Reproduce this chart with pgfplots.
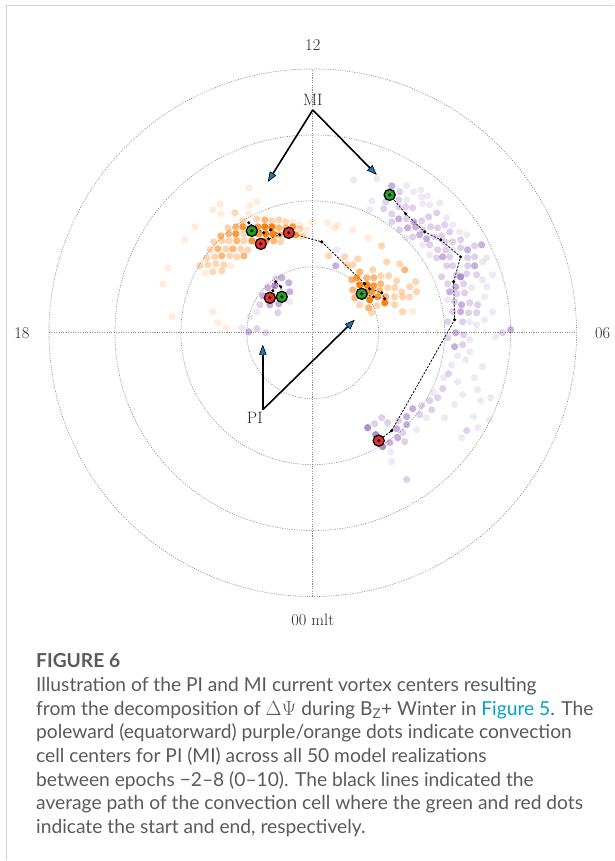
\documentclass[border=0pt]{standalone}
\usepackage{fontspec}
\usepackage{pgfplots}
\pgfplotsset{compat=1.18}
\usetikzlibrary{arrows.meta}
\newfontfamily\capfont{Lato}

\definecolor{mio}{HTML}{FF7F0E}
\definecolor{pip}{HTML}{9467BD}
\definecolor{startg}{HTML}{22A022}
\definecolor{endr}{HTML}{E62E2E}
\definecolor{arrowblue}{HTML}{1F77B4}
\definecolor{gridgray}{HTML}{8A8A8A}
\definecolor{captext}{HTML}{5A5A5A}
\definecolor{caplink}{HTML}{00A2C6}
\definecolor{framegray}{HTML}{D2D2D2}

\pgfplotsset{
  cloud/.style 2 args={only marks, mark=*, mark size=3.6bp,
    mark options={draw opacity=0, fill=#1, fill opacity=#2}},
  track/.style={black, line width=0.8bp, dash pattern=on 2.2bp off 1.4bp, no marks},
  trackdots/.style={only marks, mark=*, mark size=1.7bp, mark options={fill=black, draw opacity=0}},
  endpt/.style={only marks, mark=*, mark size=5.6bp, mark options={fill=#1, draw=black, line width=1.2bp}},
}
\tikzset{
  ring/.style={gridgray, line width=0.6bp, dash pattern=on 1.1bp off 1.3bp},
  lbl/.style={font=\fontsize{16.5}{18}\selectfont, text=black!85},
  ann/.style={line width=1.6bp, -{Triangle[length=10bp,width=7.5bp,fill=arrowblue,line width=0.6bp]}},
  capline/.style={anchor=base west, inner sep=0pt, text=captext, font=\capfont\fontsize{19.3}{22}\selectfont},
}

% convection cell centres (x, y in degrees of colatitude, noon up, dawn right)
\pgfplotstableread{
x y
6.21 23.18
9.70 23.33
14.24 22.27
15.30 21.36
14.24 20.15
16.51 20.60
16.67 19.54
17.73 19.39
19.24 19.70
20.30 17.42
21.21 16.36
22.27 15.30
23.33 14.85
16.67 13.33
21.21 12.57
26.36 11.36
27.27 8.79
24.09 6.82
26.36 6.97
27.27 3.18
23.79 1.67
24.85 1.21
27.72 -0.61
21.97 -3.48
23.18 -4.09
21.06 -4.85
25.75 -5.15
18.33 -9.09
17.27 -12.88
15.75 -14.69
11.82 -18.03
11.97 -19.54
26.97 -9.85
25.45 -10.30
25.00 -8.63
24.39 -12.72
22.57 -15.91
25.00 -14.39
8.94 20.00
8.63 18.63
3.64 12.57
-3.48 4.70
-8.48 3.18
-9.54 2.42
-10.76 0.76
16.36 21.66
17.42 20.75
14.09 14.39
17.73 11.82
25.75 10.76
25.75 8.03
20.45 5.00
26.06 5.45
26.06 1.97
23.79 -1.06
23.79 -2.88
24.54 -6.82
21.97 -7.42
19.85 -6.82
22.72 -9.39
21.51 -10.91
20.00 -12.88
26.81 -13.18
}\piP
\pgfplotstableread{
x y
13.18 21.36
11.06 19.85
10.76 18.79
11.97 18.03
13.03 20.15
13.03 19.09
14.09 19.09
15.15 18.94
14.24 17.27
16.51 16.97
17.57 17.57
18.79 18.18
16.67 15.60
17.88 16.06
18.94 15.91
20.00 16.36
15.15 14.54
18.48 14.54
19.54 14.70
20.76 15.30
21.21 13.79
22.42 14.09
17.73 13.33
18.94 12.57
20.15 12.57
22.42 12.88
24.54 13.18
18.79 11.36
20.76 11.51
23.48 11.36
24.54 11.51
20.30 10.15
21.21 10.15
23.48 10.15
21.82 8.79
23.33 8.94
24.85 8.79
19.54 8.48
20.45 7.42
22.88 7.42
21.82 5.91
23.03 6.06
21.51 4.70
23.79 4.54
25.00 4.24
21.21 3.18
23.63 3.03
24.85 3.03
22.72 1.67
22.88 -0.30
28.78 0.00
22.72 -1.82
20.60 -6.21
19.70 -8.48
18.94 -9.85
17.73 -10.30
16.51 -11.06
18.03 -11.66
16.21 -12.42
13.03 -13.33
11.36 -13.63
10.45 -12.88
9.39 -13.79
13.63 -15.15
13.94 -16.51
14.24 -22.27
23.33 -14.85
11.97 16.82
13.18 15.60
20.00 13.79
20.45 1.67
20.45 -0.76
-5.61 8.18
-8.03 4.24
-5.30 3.03
-8.48 0.61
-7.12 0.00
}\piL
\pgfplotstableread{
x y
11.97 22.27
13.03 17.27
15.30 16.82
14.39 15.91
15.60 16.06
16.21 14.85
17.27 14.24
23.48 12.57
25.60 13.33
19.70 11.51
24.54 10.15
21.66 6.97
20.76 6.21
22.57 4.24
22.42 3.18
21.66 0.00
30.00 0.45
21.51 -2.12
15.15 -11.51
14.24 -12.72
14.24 -13.94
12.72 -14.54
12.88 -15.91
11.66 -16.66
3.48 10.15
-4.70 8.33
-3.64 7.58
-6.82 6.82
-3.48 6.21
-7.57 5.60
-6.51 4.24
-5.15 4.39
-9.70 0.15
}\piM
\pgfplotstableread{
x y
22.42 8.48
8.33 -14.39
9.54 -15.45
10.60 -17.27
-5.76 7.12
-4.55 5.45
-6.51 5.30
}\piD
\pgfplotstableread{
x y
-9.70 21.97
-8.48 19.85
-14.09 19.54
-15.15 18.63
-13.94 18.03
-9.54 19.24
-9.70 18.03
-17.88 16.06
-19.39 14.09
-21.97 9.85
-22.72 7.42
-21.36 2.42
-15.15 3.18
-14.39 1.51
-13.18 0.76
0.00 16.82
2.27 16.67
3.79 16.36
-3.03 16.82
-1.97 16.36
-0.91 15.60
-12.42 10.15
-16.36 9.09
3.33 15.91
6.06 15.60
8.33 14.39
15.15 3.18
}\miP
\pgfplotstableread{
x y
-11.82 18.18
-10.60 16.97
-8.48 17.27
-6.21 16.97
-5.15 17.12
-4.09 16.82
-12.88 15.91
-1.97 15.75
-10.45 15.00
-1.51 14.69
-15.00 13.79
-13.79 13.94
-12.72 13.94
-10.45 13.94
-4.85 13.79
-15.60 12.57
-13.18 12.72
-10.91 12.72
-9.85 12.57
-16.06 11.36
-14.85 11.51
-12.57 11.66
-11.51 11.51
-17.12 10.15
-15.91 10.30
-14.69 10.45
-13.48 10.30
-15.15 9.24
-13.79 9.39
10.45 13.18
2.42 11.67
4.85 11.51
6.06 10.30
6.82 11.21
5.15 10.30
9.09 9.54
11.21 10.76
13.18 10.45
10.30 8.63
11.51 8.63
12.72 7.88
15.60 7.73
11.36 6.82
12.42 6.82
13.48 6.21
14.69 6.97
15.75 6.21
12.42 5.45
13.63 5.45
14.69 5.45
7.12 4.24
9.70 4.09
12.42 4.24
8.94 3.03
13.63 3.18
}\miL
\pgfplotstableread{
x y
-7.27 17.12
-11.66 16.06
-5.15 15.91
-4.09 15.91
-13.94 14.69
-12.72 15.00
-5.00 14.85
-11.51 13.94
-5.91 13.94
-14.39 12.72
-12.12 12.72
-13.79 11.66
-10.45 11.66
13.94 9.54
7.12 9.24
8.18 8.33
9.24 8.33
5.91 8.03
10.30 7.42
6.06 6.51
10.15 6.36
11.06 5.45
6.36 5.30
8.48 3.79
}\miM
\pgfplotstableread{
x y
-10.60 16.06
-8.33 16.06
-3.03 16.06
-11.66 15.00
-8.18 15.00
-2.57 14.85
-9.24 13.94
-7.12 13.94
-7.88 13.48
6.67 8.33
9.24 7.12
8.18 6.21
8.94 6.21
9.85 5.45
}\miD
\pgfplotstableread{
x y
-7.27 16.06
-6.21 16.06
-9.24 15.30
-7.12 15.00
-6.06 15.00
-3.64 15.15
7.12 7.27
8.18 7.27
8.63 5.00
10.91 4.54
}\miF

% average tracks of the cell centres
\pgfplotstableread{
x y
-9.24 15.45
-9.70 16.67
-7.42 15.15
-6.36 15.60
-5.00 14.85
-6.67 14.24
-7.88 13.48
}\trackMIdusk
\pgfplotstableread{
x y
7.42 5.91
9.24 5.45
10.91 5.15
10.45 6.06
8.63 6.67
7.88 7.42
1.36 13.79
-3.64 15.15
}\trackMIdawn
\pgfplotstableread{
x y
11.66 20.91
14.09 18.03
16.97 15.30
19.39 14.09
22.42 11.51
21.36 7.73
21.51 1.97
11.97 -14.85
10.00 -16.36
}\trackPIdawn
\pgfplotstableread{
x y
-4.70 5.45
-4.85 6.97
-5.61 7.73
-6.06 6.36
-6.51 5.30
}\trackPIdusk

\begin{document}
\begin{tikzpicture}
\path (0bp,0bp) rectangle (614bp,-861bp);
\draw[framegray, line width=1.3bp] (6.5bp,-861bp) -- (6.5bp,-5.5bp) -- (614bp,-5.5bp);

\begin{axis}[at={(313bp,-333bp)}, anchor=center, scale only axis,
  width=528bp, height=528bp, xmin=-40, xmax=40, ymin=-40, ymax=40,
  hide axis, clip=false]
  % polar grid: colatitude rings every 10 degrees, MLT spokes
  \draw[ring] (axis cs:0,0) circle[radius=66bp];
  \draw[ring] (axis cs:0,0) circle[radius=132bp];
  \draw[ring] (axis cs:0,0) circle[radius=198bp];
  \draw[ring] (axis cs:0,0) circle[radius=264bp];
  \draw[ring] (axis cs:-40,0) -- (axis cs:40,0);
  \draw[ring] (axis cs:0,-40) -- (axis cs:0,40);

  \addplot[cloud={pip}{0.15}] table {\piP};
  \addplot[cloud={pip}{0.30}] table {\piL};
  \addplot[cloud={pip}{0.52}] table {\piM};
  \addplot[cloud={pip}{0.75}] table {\piD};
  \addplot[cloud={mio}{0.15}] table {\miP};
  \addplot[cloud={mio}{0.32}] table {\miL};
  \addplot[cloud={mio}{0.57}] table {\miM};
  \addplot[cloud={mio}{0.82}] table {\miD};
  \addplot[cloud={mio}{1.00}] table {\miF};

  \addplot[track] table {\trackMIdusk};
  \addplot[track] table {\trackMIdawn};
  \addplot[track] table {\trackPIdawn};
  \addplot[track] table {\trackPIdusk};

  % start (green) and end (red) of each track
  \addplot[endpt=startg] coordinates {(-9.24,15.45) (7.42,5.91) (11.66,20.91) (-4.70,5.45)};
  \addplot[endpt=endr] coordinates {(-7.88,13.48) (-3.64,15.15) (10.00,-16.36) (-6.51,5.30)};

  \addplot[trackdots] table {\trackMIdusk};
  \addplot[trackdots] table {\trackMIdawn};
  \addplot[trackdots] table {\trackPIdawn};
  \addplot[trackdots] table {\trackPIdusk};
\end{axis}

% MLT labels
\node[lbl] at (313bp,-45bp) {12};
\node[lbl] at (22bp,-333bp) {18};
\node[lbl] at (603bp,-333bp) {06};
\node[lbl] at (313bp,-620bp) {00 mlt};

% annotations
\node[lbl] at (313bp,-100bp) {MI};
\draw[ann] (313bp,-110bp) -- (268bp,-182bp);
\draw[ann] (313bp,-110bp) -- (377bp,-175bp);
\node[lbl] at (255bp,-418bp) {PI};
\draw[ann] (263bp,-410bp) -- (263bp,-345bp);
\draw[ann] (263bp,-410bp) -- (355bp,-320bp);

% caption
\node[capline, font=\capfont\bfseries\fontsize{19.3}{22}\selectfont] at (36bp,-668bp) {FIGURE 6};
\node[capline] at (36bp,-692bp) {Illustration of the PI and MI current vortex centers resulting};
\node[capline] at (36bp,-716bp) {from the decomposition of $\Delta\Psi$ during B\textsubscript{Z}+ Winter in \textcolor{caplink}{Figure 5}. The};
\node[capline] at (36bp,-739.5bp) {poleward (equatorward) purple/orange dots indicate convection};
\node[capline] at (36bp,-763bp) {cell centers for PI (MI) across all 50 model realizations};
\node[capline] at (36bp,-787bp) {between epochs −2–8 (0–10). The black lines indicated the};
\node[capline] at (36bp,-810.5bp) {average path of the convection cell where the green and red dots};
\node[capline] at (36bp,-834bp) {indicate the start and end, respectively.};
\end{tikzpicture}
\end{document}
